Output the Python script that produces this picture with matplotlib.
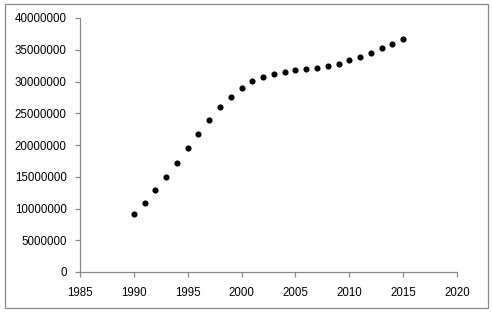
import matplotlib
matplotlib.use("Agg")
import matplotlib.pyplot as plt
from matplotlib.patches import Rectangle
from matplotlib.ticker import FixedLocator, FuncFormatter

years = [1990, 1991, 1992, 1993, 1994, 1995, 1996, 1997, 1998, 1999, 2000,
         2001, 2002, 2003, 2004, 2005, 2006, 2007, 2008, 2009, 2010, 2011,
         2012, 2013, 2014, 2015]
values = [9130000, 10870000, 12910000, 14960000, 17170000, 19530000,
          21730000, 23940000, 26030000, 27560000, 28980000, 30130000,
          30700000, 31230000, 31540000, 31800000, 31970000, 32130000,
          32440000, 32800000, 33390000, 33860000, 34540000, 35280000,
          35910000, 36690000]
x_ticks = [1985, 1990, 1995, 2000, 2005, 2010, 2015, 2020]
y_ticks = [0, 5000000, 10000000, 15000000, 20000000, 25000000,
           30000000, 35000000, 40000000]

plt.rcParams['font.family'] = ['Liberation Sans', 'DejaVu Sans']

W, H = 492, 312
fig = plt.figure(figsize=(W / 100, H / 100), dpi=100)
fig.patch.set_facecolor('white')
fig.patches.append(Rectangle((5 / W, 1 - 308 / H), 483 / W, 304 / H,
                             transform=fig.transFigure, fill=False,
                             edgecolor='#888888', linewidth=0.9))

ax = fig.add_axes([80 / W, 1 - 272 / H, (457 - 80) / W, (272 - 18) / H])
ax.plot(years, values, linestyle='none', marker='o', markersize=3.4,
        color='black')
ax.set_xlim(1985, 2020)
ax.set_ylim(0, 40000000)
ax.xaxis.set_major_locator(FixedLocator(x_ticks))
ax.yaxis.set_major_locator(FixedLocator(y_ticks))
ax.yaxis.set_major_formatter(FuncFormatter(lambda v, p: f"{int(v)}"))
for s in ['top', 'right']:
    ax.spines[s].set_visible(False)
for s in ['left', 'bottom']:
    ax.spines[s].set_color('#888888')
    ax.spines[s].set_linewidth(0.9)
ax.tick_params(axis='both', colors='#888888', length=3.5, width=0.9,
               labelcolor='black', labelsize=8.3)
ax.tick_params(axis='y', pad=6)
ax.tick_params(axis='x', pad=7)

fig.savefig('out.png', dpi=100, facecolor='white')
